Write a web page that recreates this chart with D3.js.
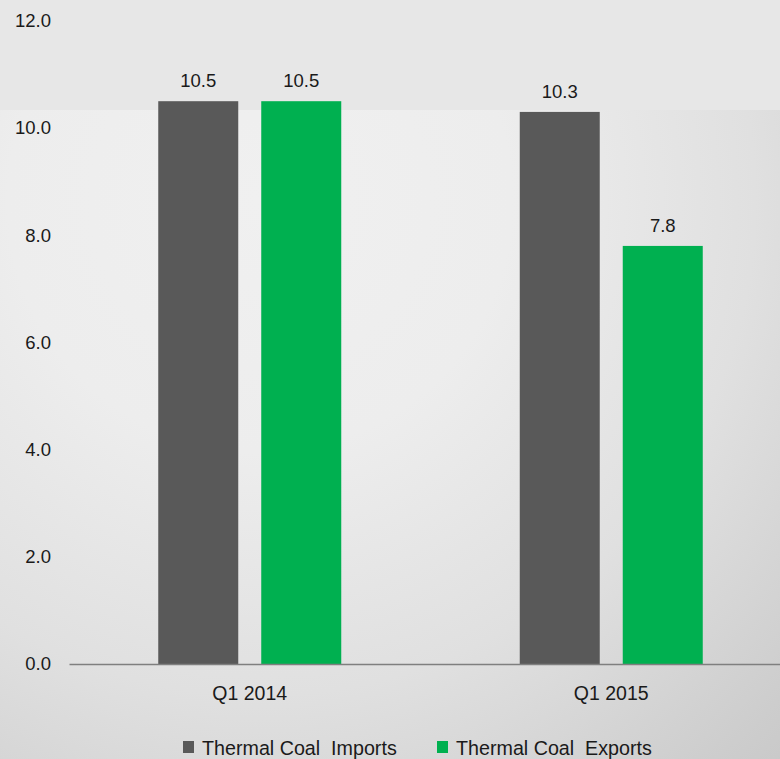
<!DOCTYPE html>
<html>
<head>
<meta charset="utf-8">
<script src="https://cdn.jsdelivr.net/npm/d3@7"></script>
<style>
  html, body { margin: 0; padding: 0; background: #e6e6e6; }
  svg { display: block; font-family: "Liberation Sans", Arial, sans-serif; }
  .legend text { white-space: pre; }
</style>
</head>
<body>
<svg id="chart" width="780" height="759"></svg>
<script>
// Thermal coal volumes by quarter
const categories = ["Q1 2014", "Q1 2015"];
const seriesNames = ["Thermal Coal  Imports", "Thermal Coal  Exports"];
const importsValues = [10.5, 10.3];
const exportsValues = [10.5, 7.8];
const yTicks = [0, 2, 4, 6, 8, 10, 12];
const seriesColors = ["#595959", "#00b050"];

const W = 780, H = 759;
const svg = d3.select("#chart");

// Soft grey slide background, lightest in the upper middle, darker to the lower right
const defs = svg.append("defs");
const rg = defs.append("radialGradient")
  .attr("id", "bg")
  .attr("gradientUnits", "userSpaceOnUse")
  .attr("cx", 260).attr("cy", 200).attr("r", 900);
rg.append("stop").attr("offset", 0).attr("stop-color", "#f0f0f0");
rg.append("stop").attr("offset", 0.28).attr("stop-color", "#ededed");
rg.append("stop").attr("offset", 0.55).attr("stop-color", "#e0e0e0");
rg.append("stop").attr("offset", 0.8).attr("stop-color", "#cdcdcd");
rg.append("stop").attr("offset", 1).attr("stop-color", "#bfbfbf");
svg.append("rect").attr("width", W).attr("height", H).attr("fill", "url(#bg)");
svg.append("rect").attr("width", W).attr("height", 110).attr("fill", "#e7e7e7");

const margin = { left: 69, baseline: 664, top: 20.8 };

const x0 = d3.scaleBand().domain(categories).range([margin.left, 792]);
const half = x0.bandwidth() / 2;
const x1 = d3.scaleBand().domain(seriesNames)
  .range([half - 91.5, half + 91.5])
  .paddingInner(23 / 103).paddingOuter(0);
const y = d3.scaleLinear().domain([0, 12]).range([margin.baseline, margin.top]);

const rows = categories.map((c, i) => ({
  category: c,
  values: [
    { series: seriesNames[0], value: importsValues[i], color: seriesColors[0] },
    { series: seriesNames[1], value: exportsValues[i], color: seriesColors[1] }
  ]
}));

// Y axis labels only
const yAxis = svg.append("g")
  .attr("transform", `translate(${margin.left},0)`)
  .call(d3.axisLeft(y).tickValues(yTicks).tickFormat(d3.format(".1f")).tickSize(0).tickPadding(18));
yAxis.select(".domain").remove();
yAxis.selectAll("text")
  .attr("font-family", "Liberation Sans, Arial, sans-serif")
  .attr("font-size", 18.5).attr("fill", "#1a1a1a");

// Bars
const groups = svg.append("g").selectAll("g").data(rows).join("g")
  .attr("transform", d => `translate(${x0(d.category)},0)`);
groups.selectAll("rect").data(d => d.values).join("rect")
  .attr("x", d => x1(d.series))
  .attr("y", d => y(d.value))
  .attr("width", x1.bandwidth())
  .attr("height", d => y(0) - y(d.value))
  .attr("fill", d => d.color);
groups.selectAll("text").data(d => d.values).join("text")
  .attr("x", d => x1(d.series) + x1.bandwidth() / 2)
  .attr("y", d => y(d.value) - 14)
  .attr("text-anchor", "middle")
  .attr("font-size", 18.5).attr("fill", "#1a1a1a")
  .text(d => d3.format(".1f")(d.value));

// Category axis
const xAxis = svg.append("g")
  .attr("transform", `translate(0,${margin.baseline})`)
  .call(d3.axisBottom(x0).tickSize(0).tickSizeOuter(0).tickPadding(22));
xAxis.select(".domain").attr("stroke", "#7f7f7f").attr("stroke-width", 1.3);
xAxis.selectAll("text")
  .attr("font-family", "Liberation Sans, Arial, sans-serif")
  .attr("font-size", 19.5).attr("fill", "#1a1a1a");

// Legend
const legendX = [183, 437];
const legend = svg.append("g").attr("class", "legend");
const items = legend.selectAll("g").data(seriesNames).join("g")
  .attr("transform", (d, i) => `translate(${legendX[i]},741)`);
items.append("rect").attr("width", 11).attr("height", 12)
  .attr("fill", (d, i) => seriesColors[i]);
items.append("text")
  .attr("x", 19).attr("y", 14)
  .attr("font-size", 19.7).attr("fill", "#1a1a1a")
  .text(d => d);
</script>
</body>
</html>
